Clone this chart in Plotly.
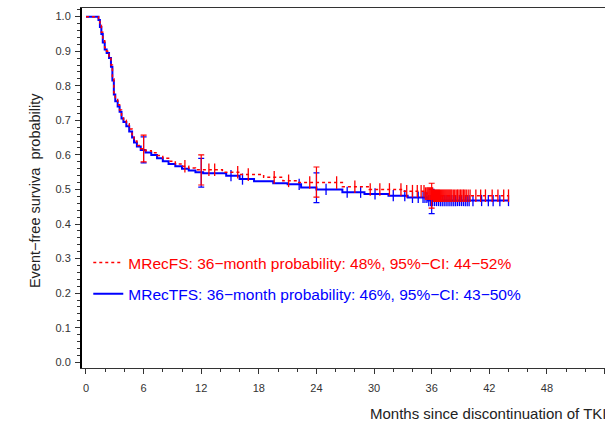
import numpy as np
import plotly.graph_objects as go

# ---- data ----
fs_time = [0, 1.3, 1.45, 1.6, 1.75, 1.95, 2.15, 2.4, 2.6, 2.75, 2.9, 3.05, 3.3, 3.5, 3.7, 3.9,
           4.2, 4.5, 4.8, 5.0, 5.3, 5.7, 6.2, 6.8, 7.4, 8.0, 8.6, 9.3, 10.0, 10.7, 11.4, 14.2,
           16.0, 18.5, 20.5, 22.0, 26.7, 29.5, 33.0, 35.3, 36.2, 44.0]
fs_surv = [1.0, 0.99, 0.975, 0.955, 0.93, 0.91, 0.9, 0.885, 0.86, 0.82, 0.78, 0.76, 0.745, 0.73,
           0.71, 0.70, 0.69, 0.675, 0.655, 0.64, 0.627, 0.618, 0.612, 0.606, 0.598, 0.59, 0.582,
           0.574, 0.567, 0.562, 0.557, 0.55, 0.543, 0.535, 0.525, 0.52, 0.508, 0.50, 0.495,
           0.488, 0.482, 0.482]

tfs_time = [0, 1.3, 1.45, 1.6, 1.75, 1.95, 2.15, 2.4, 2.6, 2.75, 2.9, 3.05, 3.3, 3.5, 3.7, 3.9,
            4.2, 4.5, 4.8, 5.0, 5.3, 5.7, 6.2, 6.8, 7.4, 8.0, 8.6, 9.3, 10.0, 10.7, 11.4, 12.2,
            14.6, 16.0, 17.5, 19.5, 21.0, 22.4, 24.0, 26.7, 29.0, 31.5, 33.5, 35.6, 44.0]
tfs_surv = [1.0, 0.99, 0.97, 0.95, 0.925, 0.905, 0.895, 0.88, 0.855, 0.815, 0.775, 0.755, 0.74,
            0.725, 0.705, 0.695, 0.683, 0.668, 0.65, 0.636, 0.624, 0.614, 0.607, 0.60, 0.59,
            0.582, 0.574, 0.567, 0.56, 0.555, 0.55, 0.547, 0.54, 0.53, 0.524, 0.518, 0.515,
            0.506, 0.50, 0.492, 0.487, 0.482, 0.477, 0.468, 0.468]

fs_cens = [10.3, 12.8, 13.4, 15.8, 16.9, 19.6, 21.1, 23.3, 26.1, 28.0, 29.6, 30.6, 31.6, 32.8,
           33.4, 34.0, 34.5, 34.9, 35.2, 35.35, 35.5, 35.6, 35.7, 35.8, 35.9, 36.0, 36.1, 36.2,
           36.3, 36.4, 36.5, 36.6, 36.7, 36.8, 36.9, 37.0, 37.1, 37.2, 37.3, 37.4, 37.5, 37.6,
           37.7, 37.8, 37.9, 38.0, 38.1, 38.25, 38.4, 38.55, 38.7, 38.85, 39.0, 39.15, 39.3,
           39.45, 39.6, 39.8, 40.0, 40.6, 41.1, 41.6, 42.3, 42.9, 43.5, 44.0]
tfs_cens = [15.1, 16.3, 22.2, 25.0, 27.2, 28.6, 30.1, 32.0, 33.2, 34.0, 34.6, 35.1, 35.3, 35.5,
            35.7, 35.9, 36.1, 36.3, 36.5, 36.7, 36.9, 37.1, 37.3, 37.5, 37.7, 37.9, 38.1, 38.3,
            38.5, 38.7, 38.9, 39.1, 39.3, 39.5, 39.7, 39.9, 40.3, 41.2, 41.9, 42.4, 43.1, 44.0]

ci_time = [6, 12, 24, 36]
fs_ci_lo = [0.58, 0.513, 0.478, 0.446]
fs_ci_hi = [0.657, 0.60, 0.565, 0.518]
tfs_ci_lo = [0.577, 0.507, 0.462, 0.43]
tfs_ci_hi = [0.652, 0.59, 0.548, 0.50]

fs_name = "MRecFS: 36\u2212month probability: 48%, 95%\u2212CI: 44\u221252%"
tfs_name = "MRecTFS: 36\u2212month probability: 46%, 95%\u2212CI: 43\u221250%"

x_ticks = [0, 6, 12, 18, 24, 30, 36, 42, 48, 54]
y_ticks = [0.0, 0.1, 0.2, 0.3, 0.4, 0.5, 0.6, 0.7, 0.8, 0.9, 1.0]

RED = "#ff0000"
BLUE = "#0000ff"


def step_at(times, surv, t):
    idx = np.searchsorted(np.array(times), np.array(t), side="right") - 1
    return list(np.array(surv)[idx])


def ci_err(times, surv, lo, hi):
    est = np.array(step_at(times, surv, ci_time))
    return est, list(np.array(hi) - est), list(est - np.array(lo))


fig = go.Figure()

# blue (MRecTFS) first, red drawn on top
b_est, b_up, b_dn = ci_err(tfs_time, tfs_surv, tfs_ci_lo, tfs_ci_hi)
fig.add_trace(go.Scatter(x=ci_time, y=list(b_est), mode="markers",
                         marker=dict(size=1, color=BLUE), showlegend=False, hoverinfo="skip",
                         error_y=dict(type="data", symmetric=False, array=b_up, arrayminus=b_dn,
                                      color=BLUE, thickness=1.2, width=3)))
fig.add_trace(go.Scatter(x=tfs_time, y=tfs_surv, mode="lines", line_shape="hv",
                         line=dict(color=BLUE, width=2), legendgroup="b", legendrank=2,
                         name=f"<span style='color:{BLUE}'>{tfs_name}</span>"))
fig.add_trace(go.Scatter(x=tfs_cens, y=step_at(tfs_time, tfs_surv, tfs_cens), mode="markers",
                         marker=dict(symbol="line-ns", size=8, line=dict(color=BLUE, width=1.3)),
                         showlegend=False, hoverinfo="skip"))

r_est, r_up, r_dn = ci_err(fs_time, fs_surv, fs_ci_lo, fs_ci_hi)
fig.add_trace(go.Scatter(x=ci_time, y=list(r_est), mode="markers",
                         marker=dict(size=1, color=RED), showlegend=False, hoverinfo="skip",
                         error_y=dict(type="data", symmetric=False, array=r_up, arrayminus=r_dn,
                                      color=RED, thickness=1.2, width=3)))
fig.add_trace(go.Scatter(x=fs_time, y=fs_surv, mode="lines", line_shape="hv",
                         line=dict(color=RED, width=1.5, dash="dot"), legendgroup="a", legendrank=1,
                         name=f"<span style='color:{RED}'>{fs_name}</span>"))
fig.add_trace(go.Scatter(x=fs_cens, y=step_at(fs_time, fs_surv, fs_cens), mode="markers",
                         marker=dict(symbol="line-ns", size=9, line=dict(color=RED, width=1.3)),
                         showlegend=False, hoverinfo="skip"))

FONT = "Liberation Sans, Arial, sans-serif"

fig.update_layout(
    width=605, height=424,
    margin=dict(l=82, r=0, t=8, b=56),
    paper_bgcolor="white", plot_bgcolor="white",
    font=dict(family=FONT, color="#222"),
    showlegend=True,
    legend=dict(x=0.012, y=0.339, xanchor="left", yanchor="top",
                bgcolor="rgba(0,0,0,0)", font=dict(size=15.5, family=FONT),
                traceorder="grouped", tracegroupgap=8, itemwidth=30),
    xaxis=dict(range=[-0.416, 54.05], tickvals=x_ticks, ticktext=[str(v) for v in x_ticks],
               showgrid=False, zeroline=False, showline=True, linecolor="#333", linewidth=1,
               mirror=True, ticks="outside", ticklen=5, tickcolor="#333",
               tickfont=dict(size=11, color="#333"), ticklabelstandoff=5,
               minor=dict(dtick=2, tick0=0, ticks="outside", ticklen=3, tickcolor="#333")),
    yaxis=dict(range=[-0.0165, 1.025], tickvals=y_ticks, ticktext=[f"{v:.1f}" for v in y_ticks],
               showgrid=False, zeroline=False, showline=True, linecolor="black", linewidth=2,
               ticks="outside", ticklen=5, tickcolor="#333",
               tickfont=dict(size=11, color="#333"), ticklabelstandoff=2,
               minor=dict(dtick=0.02, tick0=0, ticks="outside", ticklen=3, tickcolor="#333")),
    annotations=[
        dict(text="Months since discontinuation of TKI", xref="paper", yref="paper",
             x=0.547, y=-0.125, xanchor="left", yanchor="middle", showarrow=False,
             font=dict(size=15, family=FONT, color="#222")),
        dict(text="Event\u2212free surviva  probability", xref="paper", yref="paper",
             x=-0.09, y=0.494, xanchor="center", yanchor="middle", textangle=-90,
             showarrow=False, font=dict(size=14.5, family=FONT, color="#222")),
    ],
)

fig.write_html("out.html", config={"displayModeBar": False},
               post_script="document.body.style.margin='0';document.body.style.overflow='hidden';")
